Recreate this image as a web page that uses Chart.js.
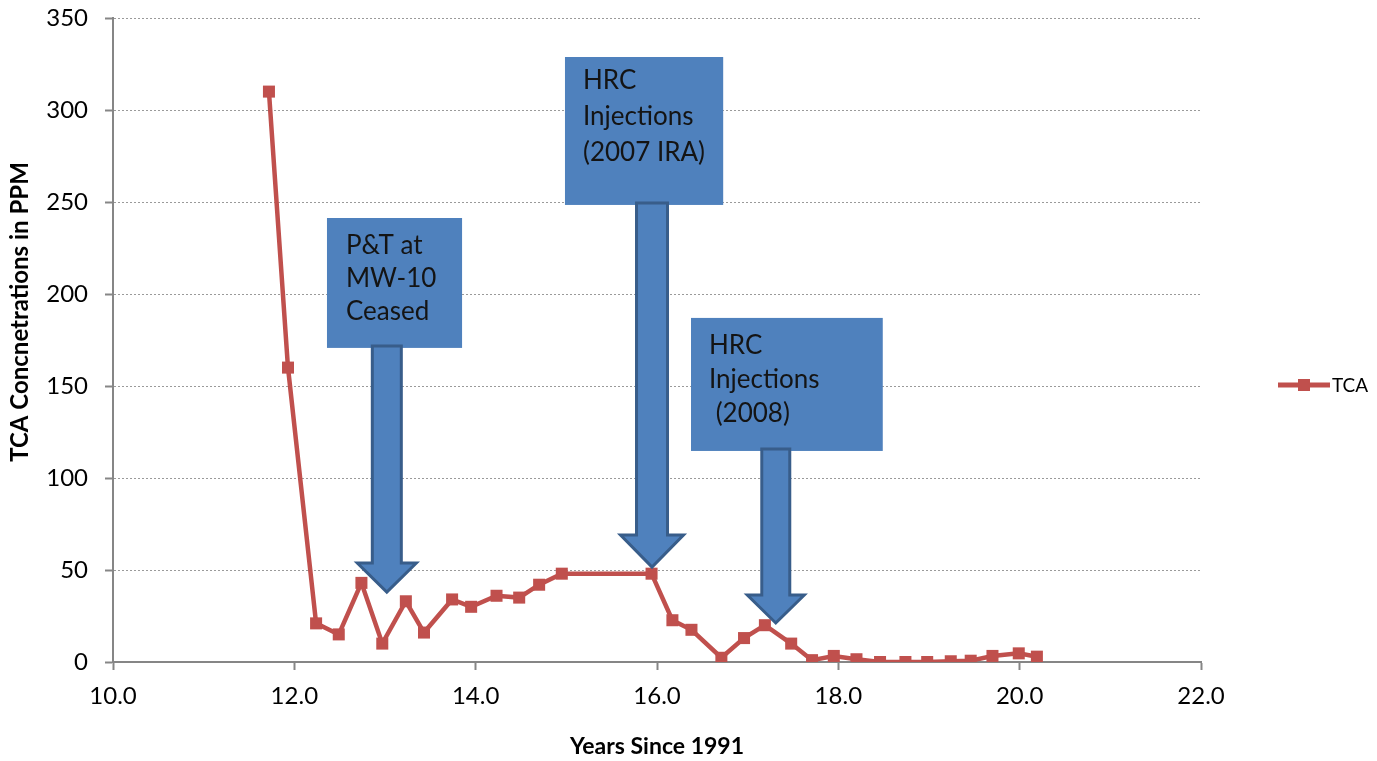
<!DOCTYPE html>
<html>
<head>
<meta charset="utf-8">
<title>TCA Concentrations</title>
<script src="https://cdn.jsdelivr.net/npm/chart.js@4.4.1/dist/chart.umd.min.js"></script>
<style>
  html, body { margin: 0; padding: 0; background: #ffffff; }
  #wrap { width: 1377px; height: 761px; }
</style>
</head>
<body>
<div id="wrap"><canvas id="chart" width="1377" height="761"></canvas></div>
<script>
// Sampling times (years since 1991) and TCA concentrations (ppm)
const years = [11.72, 11.93, 12.24, 12.49, 12.74, 12.97, 13.23, 13.43, 13.74, 13.95,
               14.23, 14.48, 14.70, 14.95, 15.94, 16.17, 16.38, 16.71, 16.96, 17.19,
               17.48, 17.71, 17.95, 18.20, 18.46, 18.74, 18.98, 19.24, 19.46, 19.70,
               19.99, 20.19];
const tca = [310, 160, 21, 15, 43, 10, 33, 16, 34, 30,
             36, 35, 42, 48, 48, 22.7, 17.5, 2.3, 13, 20,
             10, 1, 3.3, 1.5, 0, 0, 0, 0.4, 0.7, 3.3,
             4.7, 2.9];
const seriesName = 'TCA';

// Remediation events and where their arrows point (year, ppm)
const eventLabels = [
  ['P&T at', 'MW-10', 'Ceased'],
  ['HRC', 'Injections', '(2007 IRA)'],
  ['HRC', 'Injections', ' (2008)']
];
const eventYears = [13.02, 15.945, 17.31];
const eventLevels = [38, 51.6, 21.2];

// Callout box extents in axis units: [xMin, xMax, yTop, yBottom]
const calloutBoxes = [
  [12.36, 13.85, 241.3, 170.7],
  [14.985, 16.73, 328.8, 248.4],
  [16.375, 18.49, 187.0, 114.7]
];
// Text placement inside each box in pixels: [left inset, first baseline, line gap]
const calloutText = [
  [19, 36, 33],
  [18, 32, 36],
  [18, 36, 34]
];
// Arrow geometry in pixels: [shaftHalfWidth, headHalfWidth, headLength]
const arrowShapes = [
  [14.5, 29.5, 29],
  [15.5, 31.5, 32],
  [14, 28.5, 28]
];

const RED = '#C0504D';
const BLUE = '#4F81BD';
const BLUE_EDGE = '#385D8A';
const AXIS_GREY = '#868686';
const FONT = 'Lato, "Open Sans", sans-serif';

Chart.defaults.font.family = FONT;
Chart.defaults.color = '#000000';

const calloutPlugin = {
  id: 'callouts',
  afterDatasetsDraw(chart) {
    const ctx = chart.ctx;
    const xs = chart.scales.x, ys = chart.scales.y;
    eventLabels.forEach((lines, i) => {
      const [x0, x1, yt, yb] = calloutBoxes[i];
      const left = xs.getPixelForValue(x0), right = xs.getPixelForValue(x1);
      const top = ys.getPixelForValue(yt), bottom = ys.getPixelForValue(yb);
      const [dx, base, gap] = calloutText[i];
      ctx.save();
      ctx.fillStyle = BLUE;
      ctx.fillRect(left, top, right - left, bottom - top);
      ctx.fillStyle = '#141414';
      ctx.font = '26px ' + FONT;
      ctx.textBaseline = 'alphabetic';
      ctx.textAlign = 'left';
      lines.forEach((t, k) => ctx.fillText(t, left + dx, top + base + k * gap));

      // arrow from the box down to the event
      const [sw, hw, hl] = arrowShapes[i];
      const cx = xs.getPixelForValue(eventYears[i]);
      const tipY = ys.getPixelForValue(eventLevels[i]);
      const startY = bottom - 2;
      const headY = tipY - hl;
      ctx.beginPath();
      ctx.moveTo(cx - sw, startY);
      ctx.lineTo(cx - sw, headY);
      ctx.lineTo(cx - hw, headY);
      ctx.lineTo(cx, tipY);
      ctx.lineTo(cx + hw, headY);
      ctx.lineTo(cx + sw, headY);
      ctx.lineTo(cx + sw, startY);
      ctx.closePath();
      ctx.fillStyle = BLUE;
      ctx.fill();
      ctx.lineWidth = 3;
      ctx.lineJoin = 'miter';
      ctx.strokeStyle = BLUE_EDGE;
      ctx.stroke();
      ctx.restore();
    });
  }
};

const sideLegendPlugin = {
  id: 'sideLegend',
  afterDraw(chart) {
    const ctx = chart.ctx;
    const ds = chart.data.datasets[0];
    const x0 = chart.chartArea.right + 77;
    const y = 385;
    ctx.save();
    ctx.strokeStyle = ds.borderColor;
    ctx.lineWidth = 5;
    ctx.beginPath();
    ctx.moveTo(x0, y);
    ctx.lineTo(x0 + 52, y);
    ctx.stroke();
    ctx.fillStyle = ds.pointBackgroundColor;
    ctx.fillRect(x0 + 20, y - 6, 12, 12);
    ctx.fillStyle = '#000000';
    ctx.font = '19px ' + FONT;
    ctx.textBaseline = 'middle';
    ctx.textAlign = 'left';
    ctx.fillText(ds.label, x0 + 54, y + 1);
    ctx.restore();
  }
};

const yTitlePlugin = {
  id: 'yTitle',
  afterDraw(chart) {
    const ctx = chart.ctx;
    ctx.save();
    ctx.translate(20, 312);
    ctx.rotate(-Math.PI / 2);
    ctx.font = 'bold 24px ' + FONT;
    ctx.fillStyle = '#000000';
    ctx.textAlign = 'center';
    ctx.textBaseline = 'middle';
    ctx.fillText('TCA Concnetrations in PPM', 0, 0);
    ctx.restore();
  }
};

new Chart(document.getElementById('chart'), {
  type: 'scatter',
  data: {
    datasets: [{
      label: seriesName,
      data: years.map((x, i) => ({ x, y: tca[i] })),
      showLine: true,
      borderColor: RED,
      borderWidth: 4.5,
      tension: 0,
      pointStyle: 'rect',
      pointRadius: 8.5,
      pointBorderWidth: 0,
      pointBackgroundColor: RED,
      pointBorderColor: RED
    }]
  },
  options: {
    responsive: false,
    animation: false,
    devicePixelRatio: 1,
    layout: { padding: { left: 0, right: 176, top: 18, bottom: 0 } },
    plugins: {
      legend: { display: false },
      tooltip: { enabled: false }
    },
    scales: {
      x: {
        type: 'linear',
        min: 10, max: 22,
        afterFit(scale) { scale.height = 99; },
        ticks: {
          stepSize: 2,
          padding: 12,
          font: { size: 24 },
          color: '#000000',
          callback: v => Number(v).toFixed(1)
        },
        grid: {
          drawOnChartArea: false,
          drawTicks: true,
          tickLength: 8,
          tickColor: AXIS_GREY,
          tickWidth: 2
        },
        border: { display: true, color: AXIS_GREY, width: 2 },
        title: {
          display: true,
          text: 'Years Since 1991',
          font: { size: 23, weight: 'bold' },
          color: '#000000',
          padding: { top: 0, bottom: 1 }
        }
      },
      y: {
        type: 'linear',
        min: 0, max: 350,
        afterFit(scale) {
          scale.width = 113;
          scale.paddingTop = 0;
          scale.paddingBottom = 0;
        },
        ticks: {
          stepSize: 50,
          padding: 17,
          font: { size: 24 },
          color: '#000000'
        },
        grid: {
          drawOnChartArea: true,
          drawTicks: true,
          tickLength: 8,
          color: '#9a9a9a',
          lineWidth: 1,
          tickColor: AXIS_GREY,
          tickWidth: 2
        },
        border: { display: true, color: AXIS_GREY, width: 2, dash: [2, 2] }
      }
    }
  },
  plugins: [calloutPlugin, sideLegendPlugin, yTitlePlugin]
});
</script>
</body>
</html>
